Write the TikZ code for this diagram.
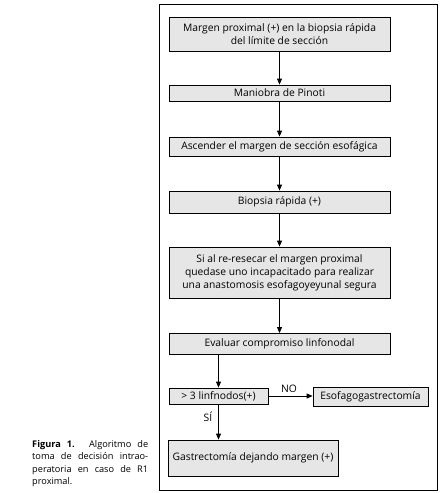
\documentclass[tikz,border=0pt]{standalone}
\usepackage{fontspec}
\setmainfont{Open Sans}
\usetikzlibrary{arrows.meta}
\definecolor{boxgray}{HTML}{E6E6E6}
\begin{document}
\begin{tikzpicture}[x=1pt,y=-1pt,
  box/.style={draw=black,fill=boxgray,line width=0.8pt,align=center,inner sep=0pt,
    font=\fontsize{10.3}{13}\selectfont},
  arr/.style={-{Triangle[length=6pt,width=5pt]},line width=0.8pt},
  lbl/.style={font=\fontsize{10.3}{12}\selectfont,inner sep=1pt}]
\useasboundingbox (0,0) rectangle (442,493);
\draw[line width=0.8pt] (159,4) rectangle (437,490);
\node[box,minimum width=221pt,minimum height=34pt] (b1) at (279.5,34) {Margen proximal (+) en la biopsia rápida\\del límite de sección};
\node[box,minimum width=221pt,minimum height=16pt] (b2) at (279.5,93) {Maniobra de Pinoti};
\node[box,minimum width=221pt,minimum height=19pt] (b3) at (279.5,146.5) {Ascender el margen de sección esofágica};
\node[box,minimum width=221pt,minimum height=22pt] (b4) at (279.5,202) {Biopsia rápida (+)};
\node[box,minimum width=221pt,minimum height=51pt] (b5) at (279.5,272.5) {Si al re-resecar el margen proximal\\quedase uno incapacitado para realizar\\una anastomosis esofagoyeyunal segura};
\node[box,minimum width=221pt,minimum height=21pt] (b6) at (279.5,344) {Evaluar compromiso linfonodal};
\node[box,minimum width=99pt,minimum height=16pt] (b7) at (218.5,396) {> 3 linfnodos(+)};
\node[box,minimum width=115pt,minimum height=19pt] (b8) at (370.5,396.5) {Esofagogastrectomía};
\node[box,minimum width=170pt,minimum height=36pt] (b9) at (253,458) {Gastrectomía dejando margen (+)};
\draw[arr] (b1) -- (b2);
\draw[arr] (b2) -- (b3);
\draw[arr] (b3) -- (b4);
\draw[arr] (b4) -- (b5);
\draw[arr] (b5) -- (b6);
\draw[arr] (b6.south -| b7.north) -- (b7.north);
\draw[arr] (b7.east) -- (b8.west |- b7.east);
\draw[arr] (b7.south) -- (b7.south |- b9.north);
\node[lbl] (no) at (289,389) {NO};
\node[lbl] (si) at (208,417) {SÍ};
\node[font=\fontsize{9.2}{12.5}\selectfont,text width=116pt,align=justify,inner sep=0pt,anchor=base west] (cap) at (32,447)
  {\textbf{Figura 1.} Algoritmo de\linebreak toma de decisión intrao-\linebreak peratoria en caso de R1\linebreak proximal.};
\end{tikzpicture}
\end{document}
